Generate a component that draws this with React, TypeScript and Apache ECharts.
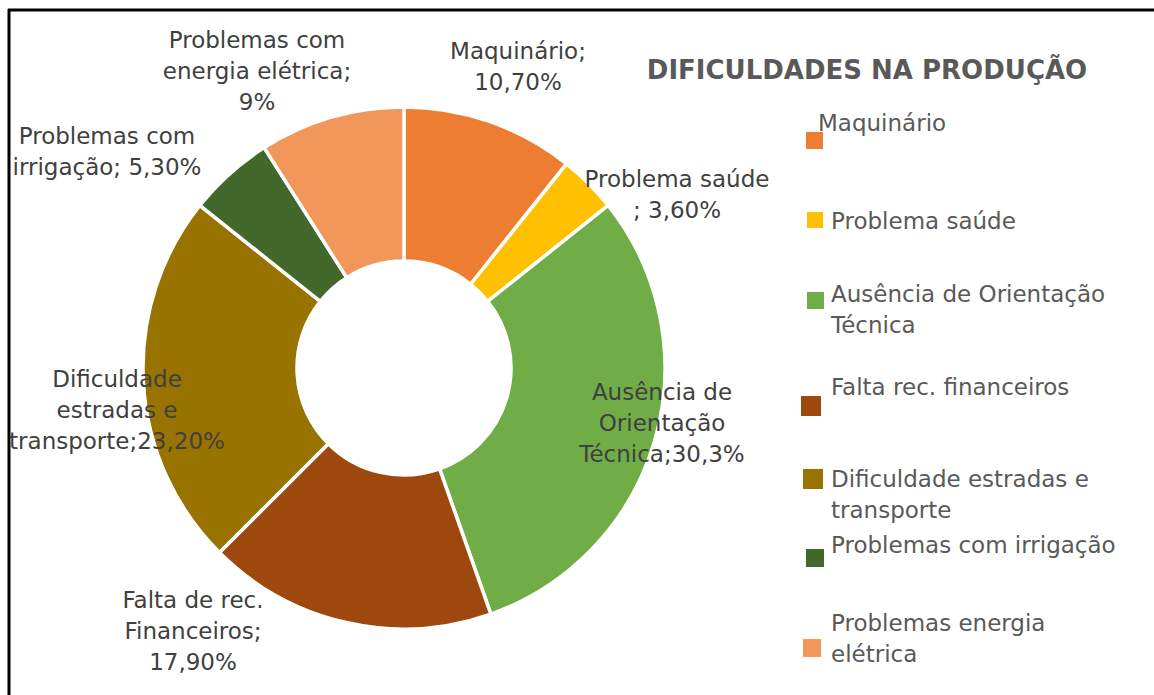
import React, { useEffect, useRef } from "react";
import * as echarts from "echarts";

const categories = [
  "Maquinário",
  "Problema saúde",
  "Ausência de Orientação Técnica",
  "Falta rec. financeiros",
  "Dificuldade estradas e transporte",
  "Problemas com irrigação",
  "Problemas energia elétrica",
];
const values = [10.7, 3.6, 30.3, 17.9, 23.2, 5.3, 9.0];
const labelTexts = [
  "Maquinário;\n10,70%",
  "Problema saúde\n; 3,60%",
  "Ausência de\nOrientação\nTécnica;30,3%",
  "Falta de rec.\nFinanceiros;\n17,90%",
  "Dificuldade\nestradas e\ntransporte;23,20%",
  "Problemas com\nirrigação; 5,30%",
  "Problemas com\nenergia elétrica;\n9%",
];
const legendTexts = [
  "Maquinário",
  "Problema saúde",
  "Ausência de Orientação\nTécnica",
  "Falta rec. financeiros",
  "Dificuldade estradas e\ntransporte",
  "Problemas com irrigação",
  "Problemas energia\nelétrica",
];
const colors = ["#ED7D31", "#FFC000", "#70AD47", "#9E480E", "#997300", "#43682B", "#F1975A"];
const title = "DIFICULDADES NA PRODUÇÃO";

// layout (positions only)
const labelCenters: [number, number][] = [
  [518, 66],
  [677, 194],
  [662, 423],
  [193, 631],
  [117, 410],
  [107, 151],
  [257, 71],
];
// [squareX, squareY, squareSize, textX, firstLineCenterY]
const legendLayout: [number, number, number, number, number][] = [
  [806, 132, 17, 818, 123],
  [807, 212, 16, 831, 221],
  [807, 292, 17, 831, 294],
  [801, 396, 20, 831, 387],
  [803, 469, 20, 831, 479],
  [806, 549, 18, 831, 545],
  [803, 639, 18, 831, 623],
];

const FONT = "'DejaVu Sans', sans-serif";
const LINE_H = 31;
const FS = 23;

export default function App() {
  const ref = useRef<HTMLDivElement>(null);
  useEffect(() => {
    if (!ref.current) return;
    const chart = echarts.init(ref.current, undefined, { renderer: "svg" });

    const legendGraphics: any[] = [];
    categories.forEach((name, i) => {
      const [sx, sy, ss, tx, ty] = legendLayout[i];
      legendGraphics.push({
        type: "rect",
        shape: { x: sx, y: sy, width: ss, height: ss },
        style: { fill: colors[i] },
      });
      legendGraphics.push({
        type: "text",
        x: tx,
        y: ty - LINE_H / 2,
        style: {
          text: legendTexts[i],
          fill: "#595959",
          font: `${FS}px ${FONT}`,
          lineHeight: LINE_H,
          textAlign: "left",
          textVerticalAlign: "top",
        },
      });
    });

    chart.setOption({
      animation: false,
      backgroundColor: "#ffffff",
      title: {
        text: title,
        left: 862,
        top: 52,
        textAlign: "center",
        textStyle: { fontFamily: FONT, fontSize: 26, fontWeight: "bold", color: "#595959" },
      },
      graphic: [
        { type: "line", shape: { x1: 9, y1: 9, x2: 9, y2: 695 }, style: { stroke: "#000", lineWidth: 3 } },
        { type: "line", shape: { x1: 8, y1: 10, x2: 1154, y2: 10 }, style: { stroke: "#000", lineWidth: 3 } },
        ...legendGraphics,
      ],
      series: [
        {
          type: "pie",
          center: [404, 368],
          radius: [107, 261],
          startAngle: 90,
          clockwise: true,
          itemStyle: { borderColor: "#ffffff", borderWidth: 3.5 },
          label: {
            show: true,
            position: "outside",
            formatter: (p: any) => labelTexts[p.dataIndex],
            color: "#404040",
            fontFamily: FONT,
            fontSize: FS,
            lineHeight: LINE_H,
            align: "center",
            overflow: "none",
            width: 400,
          },
          labelLine: { show: false },
          labelLayout: (p: any) => {
            const c = labelCenters[p.dataIndex];
            return { x: c[0], y: c[1], align: "center", verticalAlign: "middle" };
          },
          data: categories.map((name, i) => ({ name, value: values[i], itemStyle: { color: colors[i] } })),
        },
      ],
    });
    return () => chart.dispose();
  }, []);
  return (
    <div
      ref={ref}
      style={{ position: "fixed", left: 0, top: 0, width: 1154, height: 695, background: "#fff" }}
    />
  );
}
